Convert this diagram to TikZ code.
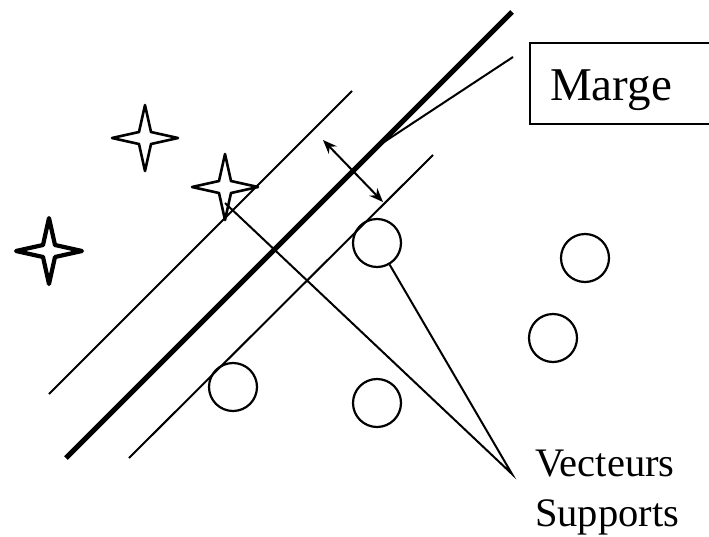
\documentclass[tikz,border=0pt]{standalone}
\usepackage{fontspec}
\setmainfont{Liberation Serif}
\usetikzlibrary{arrows.meta}
\tikzset{
  thinline/.style={line width=2pt},
  thickline/.style={line width=5pt},
  ring/.style={circle, draw, line width=2.2pt, minimum size=48pt, inner sep=0pt},
  thinstar/.style={draw, line width=2.6pt, line join=round},
  boldstar/.style={draw, line width=4.2pt, line join=round},
  pointer/.style={line width=2pt},
  gap/.style={line width=2pt, {Stealth[length=14pt,width=11pt]}-{Stealth[length=14pt,width=11pt]}},
  label/.style={inner sep=0pt, text=black},
  pics/sparkle/.style={code={
    \coordinate (-c) at (0,0);
    \path[#1] (33pt,0) -- (6pt,6pt) -- (0,33pt) -- (-6pt,6pt) -- (-33pt,0)
      -- (-6pt,-6pt) -- (0,-33pt) -- (6pt,-6pt) -- cycle;
  }}
}
\begin{document}
\begin{tikzpicture}[x=1pt, y=-1pt]
\useasboundingbox (0,0) rectangle (709,536);

% hyperplanes
\coordinate (uA) at (49,394);  \coordinate (uB) at (352,91);
\coordinate (hA) at (66,458);  \coordinate (hB) at (512,12);
\coordinate (lA) at (129,458); \coordinate (lB) at (433,155);
\draw[thinline] (uA) -- (uB);
\draw[thickline] (hA) -- (hB);
\draw[thinline] (lA) -- (lB);

% margin arrow
\coordinate (g1) at (323,140);
\coordinate (g2) at (383,202);
\draw[gap] (g1) -- (g2);

% stars
\pic (s1) at (145,138) {sparkle=thinstar};
\pic (s2) at (225,187) {sparkle=thinstar};
\pic (s3) at (49,251) {sparkle=boldstar};

% circles
\node[ring] (cA) at (377,243) {};
\node[ring] (cB) at (233,387) {};
\node[ring] (cC) at (377,403) {};
\node[ring] (cD) at (585,258) {};
\node[ring] (cE) at (553,338) {};

% Marge box and label
\node[draw, line width=2pt, anchor=north west, minimum width=230pt, minimum height=81pt, inner sep=0pt] (mbox) at (529,42) {};
\node[label, anchor=base west, font=\fontsize{47}{56}\selectfont] (marge) at (550,100) {Marge};
\coordinate (mfrom) at (513,57);
\coordinate (mto) at (378,146);
\draw[pointer] (mfrom) -- (mto);

% support vectors label
\node[label, anchor=north west, align=left, font=\fontsize{40.5}{50}\selectfont] (vs) at (535,449.5) {Vecteurs\\Supports};
\coordinate (vsp) at (512,474);
\coordinate (s2in) at (225,203);
\draw[pointer, line join=miter] (s2in) -- (vsp) -- (cA);
\end{tikzpicture}
\end{document}
